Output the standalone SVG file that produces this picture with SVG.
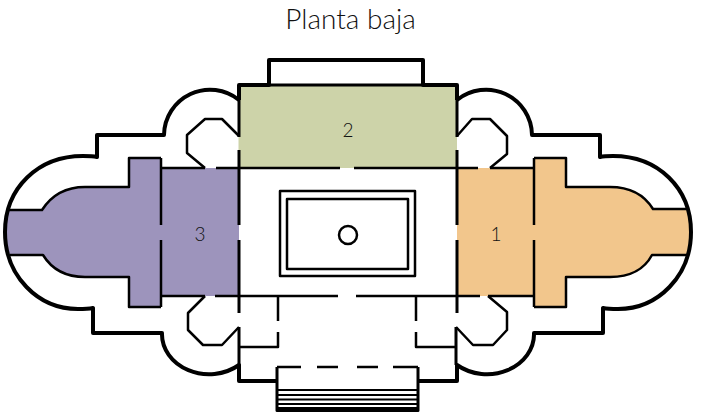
<svg xmlns="http://www.w3.org/2000/svg" width="708" height="418" viewBox="0 0 708 418">
<style>
.w{fill:none;stroke:#000;stroke-linejoin:round;stroke-linecap:butt}
.t{stroke-width:4}.m{stroke-width:3}.n{stroke-width:2.5}.s{stroke-width:1.8}
text{font-family:"Lato","Open Sans",sans-serif;font-weight:300;fill:#111;text-anchor:middle}
</style>
<g id="room-3"><path fill="#9d94bc" d="M239 168H161V158H129V187H85C64 187 51 196 42 210H9C4 224 4 241 10 255H43C51 268 64 277 85 277H129V307H161V296H239Z"/></g>
<g id="room-1"><path fill="#f2c68c" d="M457 168H534V158H566V187H610C632 187 645 196 653 209H688C692 224 692 241 687 255H652C645 268 632 277 610 277H566V307H534V296H457Z"/></g>
<g id="room-2"><rect x="238.500" y="85" width="218.500" height="83" fill="#cdd3a9"/></g>
<g id="connectors">
<path class="w t" d="M239 100V85H269V60H423V85H457V100"/>
<path class="w m" d="M269 85H423"/>
<path class="w t" d="M5 232C5 188 38 156 83 156C88 156 93 156 97 157V135H164A46 46 0 0 1 239 100"/>
<path class="w t" d="M5 232C5 276 38 309 78 309C83 309 88 309 93 308V333H162A47 40 0 0 0 239 365V381H277"/>
<path class="w t" d="M691 232C691 188 658 156 613 156C608 156 604 156 600 157V135H532A46 46 0 0 0 457 100"/>
<path class="w t" d="M691 232C691 276 658 309 618 309C613 309 608 309 603 308V333H534A47 40 0 0 1 457 365V381H419"/>
<path class="w n" d="M9 210H42C51 196 64 187 85 187H129V158H161M10 255H43C51 268 64 277 85 277H129V307H161"/>
<path class="w n" d="M688 209H653C645 196 632 187 610 187H566V158H534M687 255H652C645 268 632 277 610 277H566V307H534"/>
<path class="w n" d="M161 158V225M161 240V307M534 158V225M534 240V307"/>
<path class="w m" d="M239 85V137M239 150V225M239 240V313M239 327V365M457 85V137M457 150V225M457 240V313M456 327V365"/>
<path class="w n" d="M161 168H205M216 168H340M354 168H478M490 168H534M161 296H205M215 296H338M356 296H480M488 296H534"/>
<path class="w n" d="M205 168L187 153V135L205 119H222L239 136M205 296L188 313V330L203 345H222L239 327M490 168L507 154V136L490 119H472L457 136M488 296L507 312V330L493 345H473L456 327"/>
<path class="w n" d="M278 296V321M278 332V347H240M416 296V321M416 332V347H456"/>
<path class="w n" d="M301 367H277M317 367H338M357 367H378M393 367H418"/>
<path class="w m" d="M277 367V410.500H418V367"/>
<path class="w s" d="M278 390H418M278 395H418M278 399.500H418M278 404H418M278 408H418"/>
</g>
<g id="basin">
<rect class="w n" x="280" y="191" width="135" height="85"/>
<rect class="w n" x="287" y="199" width="121" height="70"/>
<circle class="w n" cx="348" cy="235" r="9"/>
</g>
<g id="labels">
<text x="350.500" y="29" font-size="28">Planta baja</text>
<text x="348" y="137" font-size="19">2</text>
<text x="200" y="241" font-size="19">3</text>
<text x="496" y="241" font-size="19">1</text>
</g>
</svg>
